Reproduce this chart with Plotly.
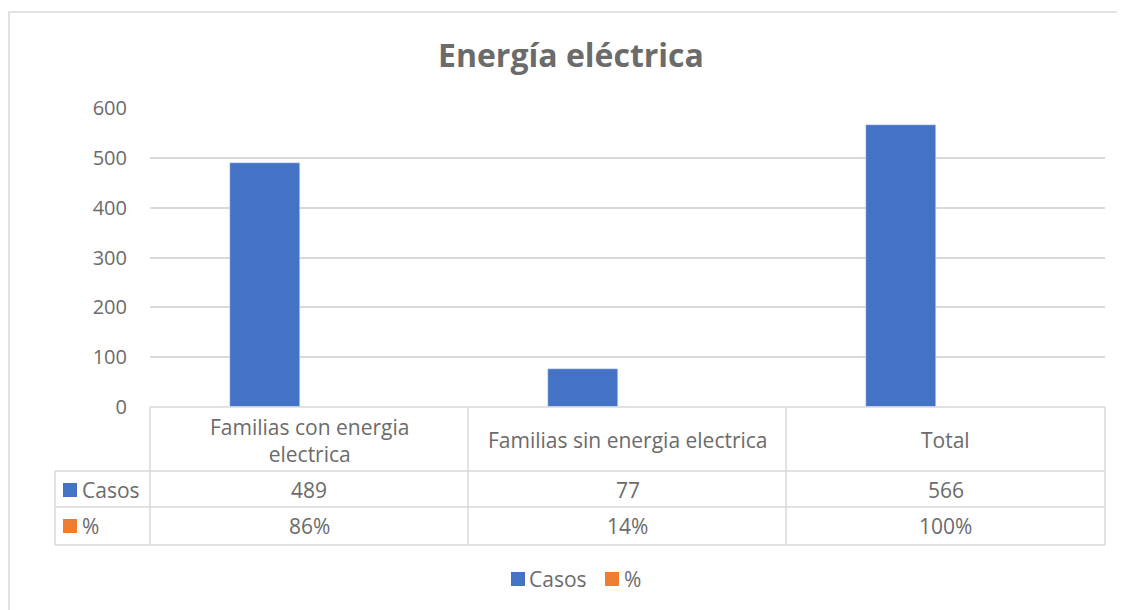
import plotly.graph_objects as go

categories = ["Familias con energia<br>electrica", "Familias sin energia electrica", "Total"]
casos = [489, 77, 566]
pct = [0.86, 0.14, 1.00]
pct_labels = ["86%", "14%", "100%"]
series_names = ["Casos", "%"]
colors = ["#4472C4", "#ED7D31"]
title = "Energía eléctrica"

W, H = 1125, 610
OFF = 8  # page body margin
PL, PR, PT, PB = 150, 1105, 108, 407  # page pixel coords of plot area
TXT = "#6b6b6b"
GRID = "#d9d9d9"
FONT = "Open Sans, Liberation Sans, sans-serif"

def px(x):
    return (x - PL) / (PR - PL)

def py(y):
    return (PB - y) / (PB - PT)

xs = [0, 1, 2]
fig = go.Figure()
fig.add_trace(go.Bar(x=xs, y=casos, name=series_names[0], marker_color=colors[0],
                     width=0.22, offset=-0.25, showlegend=False))
fig.add_trace(go.Bar(x=xs, y=pct, name=series_names[1], marker_color=colors[1],
                     width=0.22, offset=-0.03, showlegend=False))

shapes = []
line = dict(color=GRID, width=1.5)
# outer chart border
shapes.append(dict(type="rect", xref="paper", yref="paper", x0=px(OFF + 1), x1=px(1122),
                   y0=py(12), y1=py(660), line=dict(color="#d9d9d9", width=1.5)))
# horizontal table lines
shapes.append(dict(type="line", xref="paper", yref="paper", x0=px(150), x1=px(1105), y0=py(407), y1=py(407), line=line))
for yy in [471, 507, 545]:
    shapes.append(dict(type="line", xref="paper", yref="paper", x0=px(55), x1=px(1105), y0=py(yy), y1=py(yy), line=line))
# vertical table lines
shapes.append(dict(type="line", xref="paper", yref="paper", x0=px(55), x1=px(55), y0=py(471), y1=py(545), line=line))
for xx in [150, 468, 786, 1105]:
    shapes.append(dict(type="line", xref="paper", yref="paper", x0=px(xx), x1=px(xx), y0=py(407), y1=py(545), line=line))
# legend keys inside table
for yy, c in [(490, colors[0]), (526, colors[1])]:
    shapes.append(dict(type="rect", xref="paper", yref="paper", x0=px(63), x1=px(77),
                       y0=py(yy - 7), y1=py(yy + 7), fillcolor=c, line=dict(width=0)))
# bottom legend keys
for xx, c in [(511, colors[0]), (605, colors[1])]:
    shapes.append(dict(type="rect", xref="paper", yref="paper", x0=px(xx), x1=px(xx + 14),
                       y0=py(579 - 7), y1=py(579 + 7), fillcolor=c, line=dict(width=0)))

f21 = dict(size=21, color=TXT, family=FONT)
f20 = dict(size=20, color=TXT, family=FONT)
annotations = []
for i, cat in enumerate(categories):
    annotations.append(dict(x=i, y=py(440), xref="x", yref="paper", text=cat, showarrow=False,
                            yanchor="middle", font=f21, align="center"))
    annotations.append(dict(x=i, y=py(490), xref="x", yref="paper", text=str(casos[i]), showarrow=False,
                            yanchor="middle", font=f21))
    annotations.append(dict(x=i, y=py(526), xref="x", yref="paper", text=pct_labels[i], showarrow=False,
                            yanchor="middle", font=f21))
annotations.append(dict(x=px(80), y=py(490), xref="paper", yref="paper", text=series_names[0], showarrow=False,
                        xanchor="left", yanchor="middle", font=f21))
annotations.append(dict(x=px(80), y=py(526), xref="paper", yref="paper", text=series_names[1], showarrow=False,
                        xanchor="left", yanchor="middle", font=f21))
annotations.append(dict(x=px(527), y=py(579), xref="paper", yref="paper", text=series_names[0], showarrow=False,
                        xanchor="left", yanchor="middle", font=f21))
annotations.append(dict(x=px(622), y=py(579), xref="paper", yref="paper", text=series_names[1], showarrow=False,
                        xanchor="left", yanchor="middle", font=f21))
annotations.append(dict(x=px(571), y=py(55), xref="paper", yref="paper", text="<b>" + title + "</b>",
                        showarrow=False, xanchor="center", yanchor="middle",
                        font=dict(size=32, color=TXT, family=FONT)))

fig.update_layout(
    width=W, height=H,
    margin=dict(l=PL - OFF, r=W - (PR - OFF), t=PT - OFF, b=H - (PB - OFF)),
    plot_bgcolor="white", paper_bgcolor="white",
    xaxis=dict(range=[-0.5, 2.5], showticklabels=False, showgrid=False, zeroline=False, fixedrange=True),
    yaxis=dict(range=[0, 600], dtick=100, gridcolor=GRID, gridwidth=1.5, zeroline=False,
               tickfont=f20, ticklabelstandoff=22, showline=False),
    showlegend=False,
    shapes=shapes, annotations=annotations, bargap=0,
)
fig.write_html("out.html")
